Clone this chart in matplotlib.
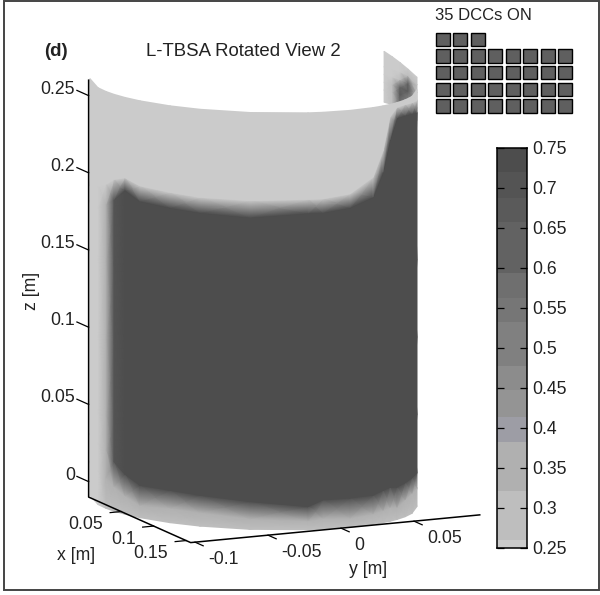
import numpy as np
from matplotlib import pyplot as plt
from matplotlib.colors import BoundaryNorm, ListedColormap
from matplotlib.patches import Rectangle

plt.rcParams['font.family'] = ['Liberation Sans', 'DejaVu Sans']

# colorbar bands
level_edges = [.25, .26, .321, .383, .414, .448, .477, .532, .563, .594, .658, .688, .7204, .75]
level_colors = ['#cbcbcb', '#bebebe', '#b0b0b0', '#9d9da5', '#949494', '#8c8c8c', '#808080',
                '#767676', '#6f6f6f', '#626262', '#5a5a5a', '#545454', '#4d4d4d']
colorbar_ticks = [.25, .3, .35, .4, .45, .5, .55, .6, .65, .7, .75]
colorbar_labels = ['0.25', '0.3', '0.35', '0.4', '0.45', '0.5', '0.55', '0.6', '0.65', '0.7', '0.75']

x_ticks = [.05, .1, .15]
x_labels = ['0.05', '0.1', '0.15']
y_ticks = [-.1, -.05, 0, .05]
y_labels = ['-0.1', '-0.05', '0', '0.05']
z_ticks = [0, .05, .1, .15, .2, .25]
z_labels = ['0', '0.05', '0.1', '0.15', '0.2', '0.25']

# azimuth around the cylinder, 180 is the left silhouette, 0 the right one.
azimuth = [180, 162, 154.4, 148.5, 141.8, 134, 120.7, 109.1, 91.2, 70.5, 64.8,
           53.8, 43, 37.6, 33.4, 28.6, 22, 14.3, 0]
# the highest value reached at each azimuth (the band along the left edge stays dry).
peak_value = [.25, .25, .38, .70, .75, .75, .75, .75, .75, .75, .75,
              .75, .75, .75, .75, .75, .75, .75, .75]
# height of the front at each azimuth: where it starts to fade, and where it is fully dark.
halo_bottom_z = [.012, .012, .010, .006, .002, -.002, -.0005, -.001, -.003, -.004, -.003,
                 -.004, -.003, -.002, -.001, -.002, .001, .003, .002]
dark_bottom_z = [.030, .030, .028, .022, .016, .011, .011, .010, .008, .005, .009,
                 .009, .009, .011, .012, .011, .012, .013, .012]
dark_top_z = [.181, .183, .187, .192, .200, .195, .194, .193, .192, .195, .195,
              .197, .202, .217, .237, .250, .250, .249, .245]
halo_top_z = [.191, .196, .200, .205, .208, .205, .204, .203, .203, .204, .204,
              .206, .215, .231, .252, .257, .257, .256, .253]

# the piece of inner wall seen above the right end of the rim
back_azimuth = [-37, -32, -26.4, -19, 0]
back_top_z = [.273, .271, .269, .267, .268]
back_row_z = [.24, .248, .253, .258, .263]
back_values = [[.25, .26, .55, .40, .27],
               [.25, .28, .66, .50, .27],
               [.25, .27, .62, .66, .30],
               [.25, .25, .32, .60, .30],
               [.25, .25, .25, .30, .27],
               [.25, .25, .25, .25, .25]]

dcc_row_counts = [3, 8, 8, 8, 8]

Z_MIN = -.01
Z_MAX = .26
X_MAX = .157
Y_MIN = -.103
Y_MAX = .095


def project(x, y, z):
    # axes box to pixels
    return 239 + 650 * x + 1460 * y, 467.2 + 290 * x - 140 * y - 1544 * z


def wall(angle, z):
    # cylinder wall to pixels
    t = np.radians(angle)
    return 253.5 + 163.5 * np.cos(t), 501 + 5.5 * np.cos(t) + 28.5 * np.sin(t) - 1544 * (z - Z_MIN)


cmap = ListedColormap(level_colors)
norm = BoundaryNorm(level_edges, cmap.N)

fig = plt.figure(figsize=(6, 5.95), dpi=100)
ax = fig.add_axes([0, 0, 1, 1])
ax.set_xlim(0, 600)
ax.set_ylim(595, 0)
ax.axis('off')

ax.add_patch(Rectangle((3.5, 0.5), 595, 589.5, fill=False, edgecolor='#444444', linewidth=1.4))

# back of the wall first, the front covers its lower part
n_back = len(back_azimuth)
back_z = np.array([np.full(n_back, r) for r in back_row_z] + [back_top_z])
back_a = np.tile(back_azimuth, (len(back_row_z) + 1, 1))
bx, by = wall(back_a, back_z)
ax.pcolormesh(bx, by, np.array(back_values), cmap=cmap, norm=norm, shading='gouraud')

n = len(azimuth)
front_z = np.array([np.full(n, Z_MIN), halo_bottom_z, dark_bottom_z, np.full(n, .05), np.full(n, .1),
                    np.full(n, .15), dark_top_z, halo_top_z, np.full(n, Z_MAX)])
row_values = [.28, .33, .75, .75, .75, .75, .75, .25, .25]
front_values = np.minimum(np.array(row_values)[:, None], np.array(peak_value)[None, :])
front_a = np.tile(azimuth, (len(row_values), 1))
fx, fy = wall(front_a, front_z)
ax.pcolormesh(fx, fy, front_values, cmap=cmap, norm=norm, shading='gouraud')

# box lines
px, py = project(np.array([0, 0, X_MAX, X_MAX]), np.array([Y_MIN, Y_MIN, Y_MIN, Y_MAX]),
                 np.array([Z_MAX, Z_MIN, Z_MIN, Z_MIN]))
ax.plot(px, py, color='black', linewidth=1.1)

for v, lab in zip(z_ticks, z_labels):
    a = project(0, Y_MIN, v)
    b = project(-.018, Y_MIN, v)
    ax.plot([a[0], b[0]], [a[1], b[1]], color='black', linewidth=.9)
    ax.text(75, a[1] - 6.5, lab, ha='right', va='center', fontsize=12.7, color='#222222')

for v, lab in zip(x_ticks, x_labels):
    a = project(v, Y_MIN, Z_MIN)
    b = project(v, Y_MIN - .0075, Z_MIN)
    ax.plot([a[0], b[0]], [a[1], b[1]], color='black', linewidth=.9)
    ax.text(a[0] - 18, a[1] + 13, lab, ha='right', va='center', fontsize=12.7, color='#222222')

for v, lab in zip(y_ticks, y_labels):
    a = project(X_MAX, v, Z_MIN)
    b = project(X_MAX + .0125, v, Z_MIN)
    ax.plot([a[0], b[0]], [a[1], b[1]], color='black', linewidth=.9)
    ax.text(a[0] + 13, a[1] + 17.5, lab, ha='left', va='center', fontsize=12.7, color='#222222')

ax.text(31, 291, 'z [m]', rotation=90, ha='center', va='center', fontsize=12.7, color='#222222')
ax.text(76, 556, 'x [m]', ha='center', va='center', fontsize=12.7, color='#222222')
ax.text(368, 569, 'y [m]', ha='center', va='center', fontsize=12.7, color='#222222')

ax.text(243.5, 51, 'L-TBSA Rotated View 2', ha='center', va='center', fontsize=13.4, color='#222222')
ax.text(56, 52, '(d)', ha='center', va='center', fontsize=13.5, fontweight='bold', color='#222222')
ax.text(435, 15, '35 DCCs ON', ha='left', va='center', fontsize=12, color='#222222')

# DCC array, one square for each DCC switched on
for row, count in enumerate(dcc_row_counts):
    for col in range(count):
        ax.add_patch(Rectangle((436 + col * 17.45, 32.5 + row * 16.7), 14, 13.5, facecolor='#5f5f5f',
                               edgecolor='black', linewidth=1))

cax = fig.add_axes([497 / 600, 1 - 548 / 595, 30 / 600, 400 / 595])
cax.pcolormesh([0, 1], level_edges, np.array(level_edges[:-1])[:, None] + 1e-4, cmap=cmap, norm=norm)
cax.set_xticks([])
cax.set_yticks(colorbar_ticks)
cax.set_yticklabels(colorbar_labels, fontsize=12.7, color='#222222')
cax.set_ylim(.25, .75)
cax.tick_params(axis='y', direction='in', left=True, right=True, labelleft=False, labelright=True,
                length=5, width=.9, pad=4)
for s in cax.spines.values():
    s.set_linewidth(1.1)

fig.savefig('out.png', dpi=100)
